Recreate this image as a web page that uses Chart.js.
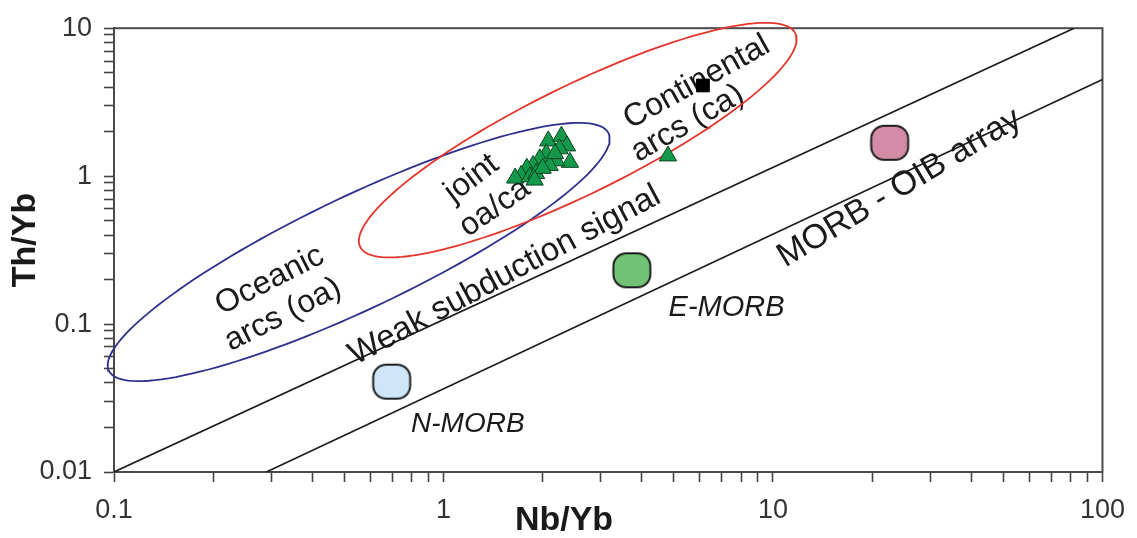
<!DOCTYPE html>
<html>
<head>
<meta charset="utf-8">
<script src="https://cdn.jsdelivr.net/npm/chart.js@4.4.0/dist/chart.umd.min.js"></script>
<style>
  body { margin: 0; background: #fff; }
  #wrap { width: 1137px; height: 538px; }
</style>
</head>
<body>
<div id="wrap"><canvas id="chart" width="1137" height="538"></canvas></div>
<script>
// samples (Nb/Yb, Th/Yb)
const sampleNb = [2.08, 2.28, 2.37, 2.42, 2.20, 2.05, 1.96, 1.87, 1.79, 1.72, 1.65, 1.83, 1.91, 2.10, 2.00, 2.25, 2.18, 1.89, 4.80];
const sampleTh = [1.73, 1.86, 1.60, 1.24, 1.27, 1.42, 1.31, 1.18, 1.13, 1.01, 0.97, 0.99, 1.04, 1.18, 1.13, 1.53, 1.42, 0.94, 1.37];
const squareNb = [6.13];
const squareTh = [4.10];

// reference compositions
const refNames = ['N-MORB', 'E-MORB', 'OIB'];
const refNb = [0.696, 3.73, 22.6];
const refTh = [0.0408, 0.231, 1.68];

// MORB-OIB array boundaries
const upperLineNb = [0.1, 82];
const upperLineTh = [0.01, 10];
const lowerLineNb = [0.29, 100];
const lowerLineTh = [0.01, 4.5];

// arc fields: centre, end of long axis, end of short axis
const oaField = [[0.553, 0.307], [3.168, 1.953], [0.659, 0.140]];
const caField = [[2.555, 1.752], [11.68, 9.26], [3.034, 0.827]];

const xTickLabels = ['0.1', '1', '10', '100'];
const yTickLabels = ['0.01', '0.1', '1', '10'];

const refColors = ['#cfe6f8', '#72c275', '#d38ba6'];
const FONT = 'Liberation Sans, Arial, sans-serif';

const fieldLabels = [
    { text: 'Oceanic', nb: 0.297, th: 0.197, rot: -27, font: '32px ' + FONT },
    { text: 'arcs (oa)', nb: 0.326, th: 0.1155, rot: -27, font: '32px ' + FONT },
    { text: 'joint', nb: 1.218, th: 0.965, rot: -37, font: '32px ' + FONT },
    { text: 'oa/ca', nb: 1.431, th: 0.611, rot: -35, font: '32px ' + FONT },
    { text: 'Continental', nb: 5.87, th: 4.31, rot: -29, font: '32px ' + FONT },
    { text: 'arcs (ca)', nb: 5.51, th: 2.27, rot: -30, font: '32px ' + FONT },
    { text: 'Weak subduction signal', nb: 1.534, th: 0.213, rot: -28, font: '33px ' + FONT },
    { text: 'MORB - OIB array', nb: 24.2, th: 0.83, rot: -31, font: '34px ' + FONT },
    { text: 'E-MORB', nb: 7.23, th: 0.1285, rot: 0, font: 'italic 29px ' + FONT },
    { text: 'N-MORB', nb: 1.185, th: 0.0212, rot: 0, font: 'italic 28px ' + FONT }
];

function toPoints(xs, ys) {
    return xs.map((v, i) => ({ x: v, y: ys[i] }));
}

function fieldOutline(field) {
    const [c, a, b] = field.map(p => p.map(Math.log10));
    const pts = [];
    for (let k = 0; k <= 144; k++) {
        const t = k / 144 * 2 * Math.PI;
        pts.push({
            x: Math.pow(10, c[0] + (a[0] - c[0]) * Math.cos(t) + (b[0] - c[0]) * Math.sin(t)),
            y: Math.pow(10, c[1] + (a[1] - c[1]) * Math.cos(t) + (b[1] - c[1]) * Math.sin(t))
        });
    }
    return pts;
}

// rounded blob marker used for the reference compositions
function makeBlob(color) {
    const c = document.createElement('canvas');
    c.width = 42;
    c.height = 40;
    const g = c.getContext('2d');
    g.beginPath();
    g.roundRect(2.5, 3, 37, 34, 13);
    g.fillStyle = color;
    g.fill();
    g.lineWidth = 2;
    g.strokeStyle = '#1c1c1c';
    g.stroke();
    return c;
}

function logTicks(lo, hi) {
    const ticks = [];
    for (let e = lo; e < hi; e++) {
        for (let m = 1; m <= 9; m++) ticks.push({ value: m * Math.pow(10, e) });
    }
    ticks.push({ value: Math.pow(10, hi) });
    return ticks;
}

function labelFor(v, labels) {
    return labels.find(s => Math.abs(parseFloat(s) - v) < v * 1e-6) || '';
}

const decorations = {
    id: 'decorations',
    beforeDatasetsDraw(chart) {
        const { ctx, chartArea: a, scales: { x, y } } = chart;
        ctx.save();
        ctx.strokeStyle = '#4a4a4a';
        ctx.lineWidth = 2;
        ctx.strokeRect(a.left, a.top, a.right - a.left, a.bottom - a.top);
        ctx.fillStyle = '#1a1a1a';
        ctx.textAlign = 'center';
        ctx.textBaseline = 'middle';
        fieldLabels.forEach(l => {
            ctx.save();
            ctx.translate(x.getPixelForValue(l.nb), y.getPixelForValue(l.th));
            ctx.rotate(l.rot * Math.PI / 180);
            ctx.font = l.font;
            ctx.fillText(l.text, 0, 0);
            ctx.restore();
        });
        // axis titles
        ctx.font = 'bold 34px ' + FONT;
        ctx.fillText('Nb/Yb', 564, 521);
        ctx.save();
        ctx.translate(26, 240);
        ctx.rotate(-Math.PI / 2);
        ctx.fillText('Th/Yb', 0, 0);
        ctx.restore();
        ctx.restore();
    }
};

const axisCommon = {
    type: 'logarithmic',
    grid: { drawOnChartArea: false, drawTicks: true, tickLength: 10, tickWidth: 1.6, tickColor: '#444' },
    border: { display: true, color: '#4a4a4a', width: 2 }
};

new Chart(document.getElementById('chart'), {
    type: 'scatter',
    data: {
        datasets: [
            {
                data: toPoints(squareNb, squareTh),
                pointStyle: 'rect', pointRadius: 9,
                backgroundColor: '#000', borderColor: '#000', borderWidth: 1
            },
            {
                data: toPoints(sampleNb, sampleTh),
                pointStyle: 'triangle', pointRadius: 10,
                backgroundColor: '#14994a', borderColor: '#0c4421', borderWidth: 1
            },
            {
                label: refNames.join(', '),
                data: toPoints(refNb, refTh),
                pointStyle: refColors.map(makeBlob), pointRadius: 20
            },
            {
                data: fieldOutline(caField), showLine: true, pointRadius: 0,
                borderColor: '#e2362c', borderWidth: 1.8, clip: false
            },
            {
                data: fieldOutline(oaField), showLine: true, pointRadius: 0,
                borderColor: '#2f2f8c', borderWidth: 1.8, clip: false
            },
            {
                data: toPoints(upperLineNb, upperLineTh), showLine: true, pointRadius: 0,
                borderColor: '#1a1a1a', borderWidth: 1.6
            },
            {
                data: toPoints(lowerLineNb, lowerLineTh), showLine: true, pointRadius: 0,
                borderColor: '#1a1a1a', borderWidth: 1.6
            }
        ]
    },
    options: {
        responsive: false,
        animation: false,
        events: [],
        layout: { padding: { left: 0, right: 34, top: 20, bottom: 0 } },
        plugins: { legend: { display: false }, tooltip: { enabled: false } },
        scales: {
            x: Object.assign({}, axisCommon, {
                min: 0.1, max: 100, position: 'bottom',
                afterBuildTicks: s => { s.ticks = logTicks(-1, 2); },
                afterFit: s => { s.height = 66; },
                ticks: {
                    autoSkip: false, maxRotation: 0, padding: 12, color: '#333',
                    font: { size: 27, family: FONT },
                    callback: v => labelFor(v, xTickLabels)
                }
            }),
            y: Object.assign({}, axisCommon, {
                min: 0.01, max: 10, position: 'left',
                afterBuildTicks: s => { s.ticks = logTicks(-2, 1); },
                afterFit: s => { s.width = 114; },
                ticks: {
                    autoSkip: false, padding: 12, color: '#333',
                    font: { size: 27, family: FONT },
                    callback: v => labelFor(v, yTickLabels)
                }
            })
        }
    },
    plugins: [decorations]
});
</script>
</body>
</html>
